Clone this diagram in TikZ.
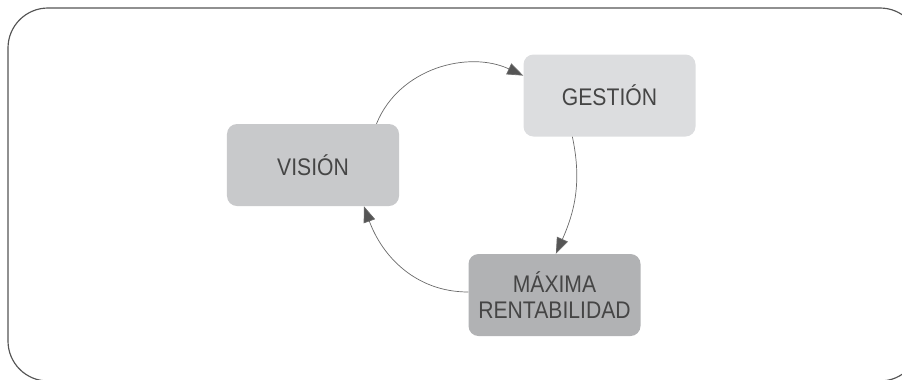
\documentclass[tikz,border=0pt]{standalone}
\usepackage{fontspec}
\setmainfont{Liberation Sans}[FakeStretch = 0.88]
\usetikzlibrary{arrows.meta}
\definecolor{framegray}{HTML}{555555}
\definecolor{linegray}{HTML}{6A6A6A}
\definecolor{tipgray}{HTML}{555555}
\definecolor{textgray}{HTML}{454545}
\definecolor{visiongray}{HTML}{C8C9CB}
\definecolor{gestiongray}{HTML}{DCDDDF}
\definecolor{maximagray}{HTML}{B1B2B4}
\tikzset{
    stagebox/.style = {rectangle, rounded corners = 0.3cm, minimum width = 5.16cm,
        minimum height = 2.46cm, align = center, text = textgray,
        font = \fontsize{20.5}{22.5}\selectfont},
    cyclearrow/.style = {draw = linegray, line width = 0.6pt,
        -{Triangle[length = 0.48cm, width = 0.36cm, fill = tipgray]}}
}
\begin{document}
\begin{tikzpicture}[x = 0.03cm, y = -0.03cm]
    \useasboundingbox (0, 0) rectangle (902, 379);
    \clip (0, 0) rectangle (902, 379);
    \draw[framegray, line width = 1pt, rounded corners = 1.2cm] (8, 8) rectangle (920, 381);
    \node[stagebox, fill = visiongray] (vision) at (313, 165) {VISIÓN};
    \node[stagebox, fill = gestiongray] (gestion) at (609.5, 95.5) {GESTIÓN};
    \node[stagebox, fill = maximagray] (maxima) at (554.5, 295) {MÁXIMA\\RENTABILIDAD};
    \draw[cyclearrow] (vision.33.5) to[out = 68, in = 155] (gestion.167);
    \draw[cyclearrow] (gestion.-132) to[out = -78, in = 66] (maxima.88);
    \draw[cyclearrow] (maxima.178) to[out = 180, in = -70] (vision.-39);
\end{tikzpicture}
\end{document}
